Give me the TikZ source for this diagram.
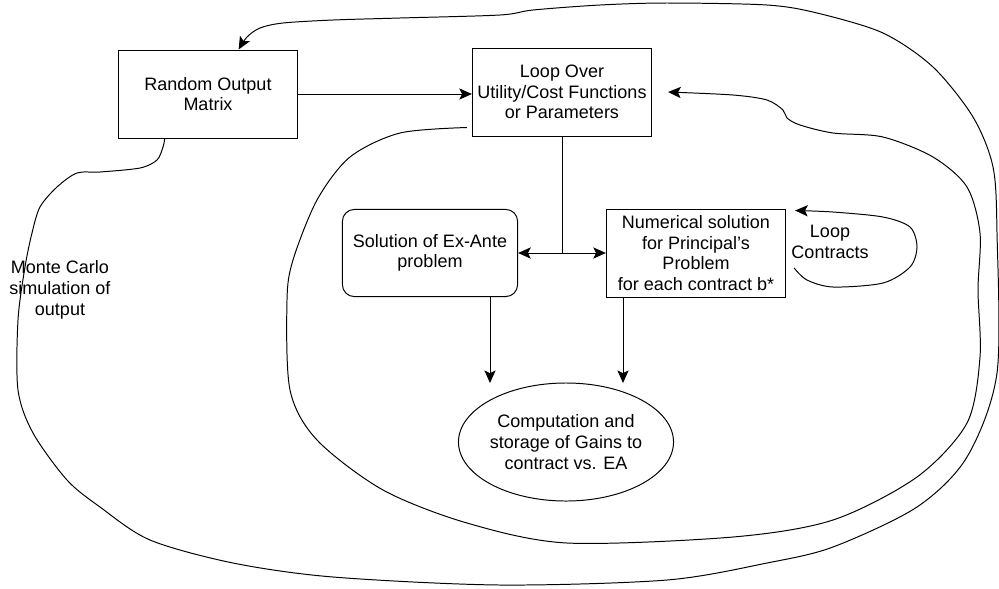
\documentclass[tikz,border=0pt]{standalone}
\usepackage{fontspec}
\setmainfont{Liberation Sans}
\usetikzlibrary{arrows.meta,shapes.geometric,calc}

\begin{document}
\begin{tikzpicture}[x=0.025cm, y=-0.025cm, line width=0.7pt,
  >={Stealth[length=9pt,width=8pt,inset=2pt]}, font=\fontsize{12.8}{14.7}\selectfont]

% Styles
\tikzset{
  stepbox/.style={draw, rectangle, align=center, inner sep=2pt,
    minimum width=4.48cm, minimum height=2.2cm},
  roundbox/.style={stepbox, rounded corners=0.3cm,
    minimum width=4.38cm, minimum height=2.18cm},
  resultbox/.style={draw, ellipse, align=center, inner sep=0pt,
    minimum width=4.45cm, minimum height=2.95cm},
  loopline/.style={->}
}

\useasboundingbox (0,0) rectangle (999,588);

% Boxes
\node[stepbox]   (rom)    at (208,94)  {Random Output\\Matrix};
\node[stepbox]   (loop)   at (562,92)  {Loop Over\\Utility/Cost Functions\\or Parameters};
\node[roundbox]  (exante) at (430,253) {Solution of Ex-Ante\\problem};
\node[stepbox]   (numer)  at (696,253) {Numerical solution\\for Principal's\\Problem\\for each contract b*};
\node[resultbox] (gains)  at (566,442) {Computation and\\storage of Gains to\\contract vs. EA};

% Loop labels
\node[align=center] (mc) at (60,290)  {Monte Carlo\\simulation of\\output};
\node[align=center] (lc) at (830,242) {Loop\\Contracts};

% Straight connectors
\draw[->] (rom.east) -- (rom.east -| loop.west);
\coordinate (fork) at (loop.south |- exante.east);
\draw (loop.south) -- (fork);
\draw[<->] (exante.east) -- (numer.west);

\coordinate (gainsA) at (490,383);
\coordinate (gainsB) at (623,383);
\draw[->] (gainsA |- exante.south) -- (gainsA);
\draw[->] (gainsB |- numer.south) -- (gainsB);

% Loop over contracts
\coordinate (lcout) at ($(numer.east)+(8,15)$);
\coordinate (lcin)  at ($(numer.north east)+(9,2)$);
\draw[loopline] plot[smooth] coordinates {(lcout) (807,280) (833,287) (883,283)
  (910,267) (917,247) (910,227) (883,217) (833,212) (lcin)};

% Loop over functions / parameters
\coordinate (parout) at ($(loop.south west)+(-5,-9)$);
\coordinate (parin)  at ($(loop.east)+(16,0)$);
\draw[loopline] plot[smooth] coordinates {(parout) (400,133) (350,157) (317,200)
  (293,260) (287,300) (290,390) (317,440) (383,490) (467,523) (567,543) (733,537)
  (833,520) (917,477) (967,423) (980,357) (978,290) (980,233) (967,187) (933,157)
  (883,137) (833,133) (800,125) (787,118) (783,110) (767,100) (733,95) (parin)};

% Monte Carlo loop
\coordinate (mcout) at ($(rom.south west)!0.26!(rom.south east)$);
\coordinate (mcin)  at ($(rom.north west)!0.67!(rom.north east)$);
\draw[loopline] plot[smooth] coordinates {(mcout) (163,147) (157,160) (140,168)
  (100,172) (77,173) (57,187) (40,207) (32,233) (25,267) (18,320) (18,390)
  (33,433) (67,480) (100,507) (150,540) (233,563) (333,577) (500,585) (667,580)
  (767,563) (833,547) (917,507) (967,457) (997,373) (997,233) (993,167) (973,117)
  (933,67) (883,33) (817,13) (767,5) (667,3) (600,5) (533,10) (500,15) (400,18)
  (333,20) (283,23) (260,28) (247,37) (mcin)};

\end{tikzpicture}
\end{document}
